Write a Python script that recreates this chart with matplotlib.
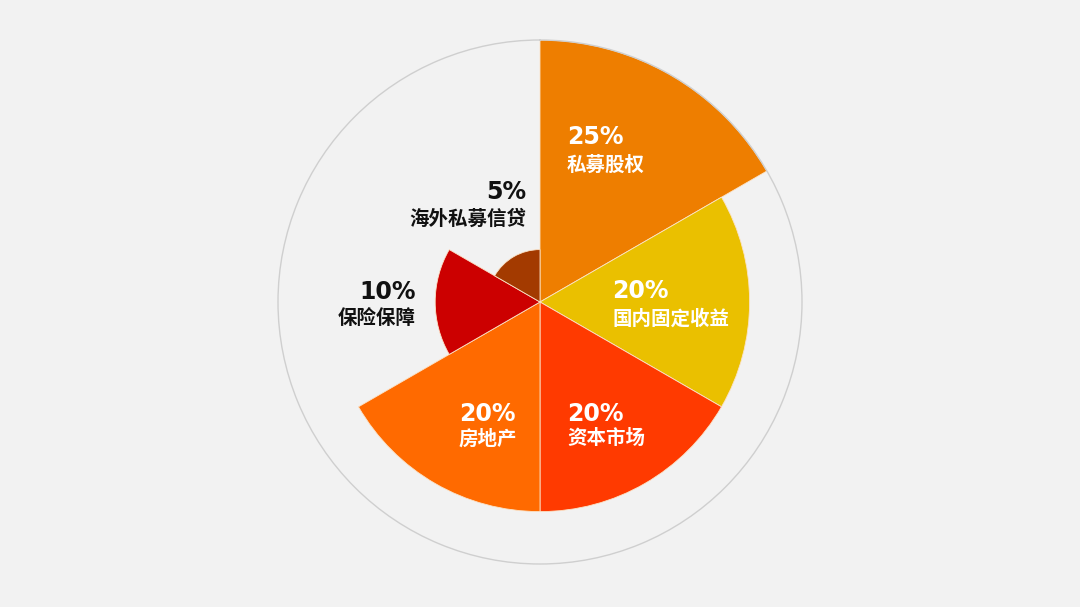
import numpy as np
import matplotlib
matplotlib.use("Agg")
import matplotlib.pyplot as plt

# 数据
categories = ["私募股权", "国内固定收益", "资本市场", "房地产", "保险保障", "海外私募信贷"]
values = [25, 20, 20, 20, 10, 5]
colors = ["#EE7E00", "#EAC000", "#FF3A00", "#FF6A00", "#CC0000", "#A33A00"]
text_colors = ["white", "white", "white", "white", "#111111", "#111111"]

bg = "#F2F2F2"
W, H = 1080, 607
cx, cy, R = 540, 302, 262

fig = plt.figure(figsize=(W / 100, H / 100), dpi=100, facecolor=bg)

# 极坐标玫瑰图
ax = fig.add_axes([(cx - R) / W, (H - cy - R) / H, 2 * R / W, 2 * R / H], projection="polar")
ax.set_facecolor(bg)
ax.set_theta_zero_location("N")
ax.set_theta_direction(-1)
n = len(values)
width = 2 * np.pi / n
theta = np.arange(n) * width + width / 2
ax.bar(theta, values, width=width, color=colors, edgecolor="#FBE3C8", linewidth=0.6)
ax.set_ylim(0, max(values))
ax.set_xticks([])
ax.set_yticks([])
ax.grid(False)
ax.spines["polar"].set_color("#CFCFCF")
ax.spines["polar"].set_linewidth(1.0)

# 标签（像素坐标）
tx = fig.add_axes([0, 0, 1, 1], facecolor="none")
tx.set_xlim(0, W)
tx.set_ylim(H, 0)
tx.axis("off")

# (x, 百分比行 y, 名称行 y, 对齐)
label_pos = [
    (567, 137, 165, "left"),
    (612, 291, 319, "left"),
    (567, 414, 439, "left"),
    (459, 414, 439, "left"),
    (416, 292, 319, "right"),
    (526, 192, 219, "right"),
]

for name, v, c, (x, y1, y2, ha) in zip(categories, values, text_colors, label_pos):
    tx.text(x, y1, f"{v}%", ha=ha, va="center", fontsize=17, fontweight="bold",
            color=c, family=["DejaVu Sans"])
    tx.text(x, y2, name, ha=ha, va="center", fontsize=14, fontweight="bold",
            color=c, family=["Noto Sans CJK SC", "DejaVu Sans"])

fig.savefig("out.png", dpi=100, facecolor=bg)
